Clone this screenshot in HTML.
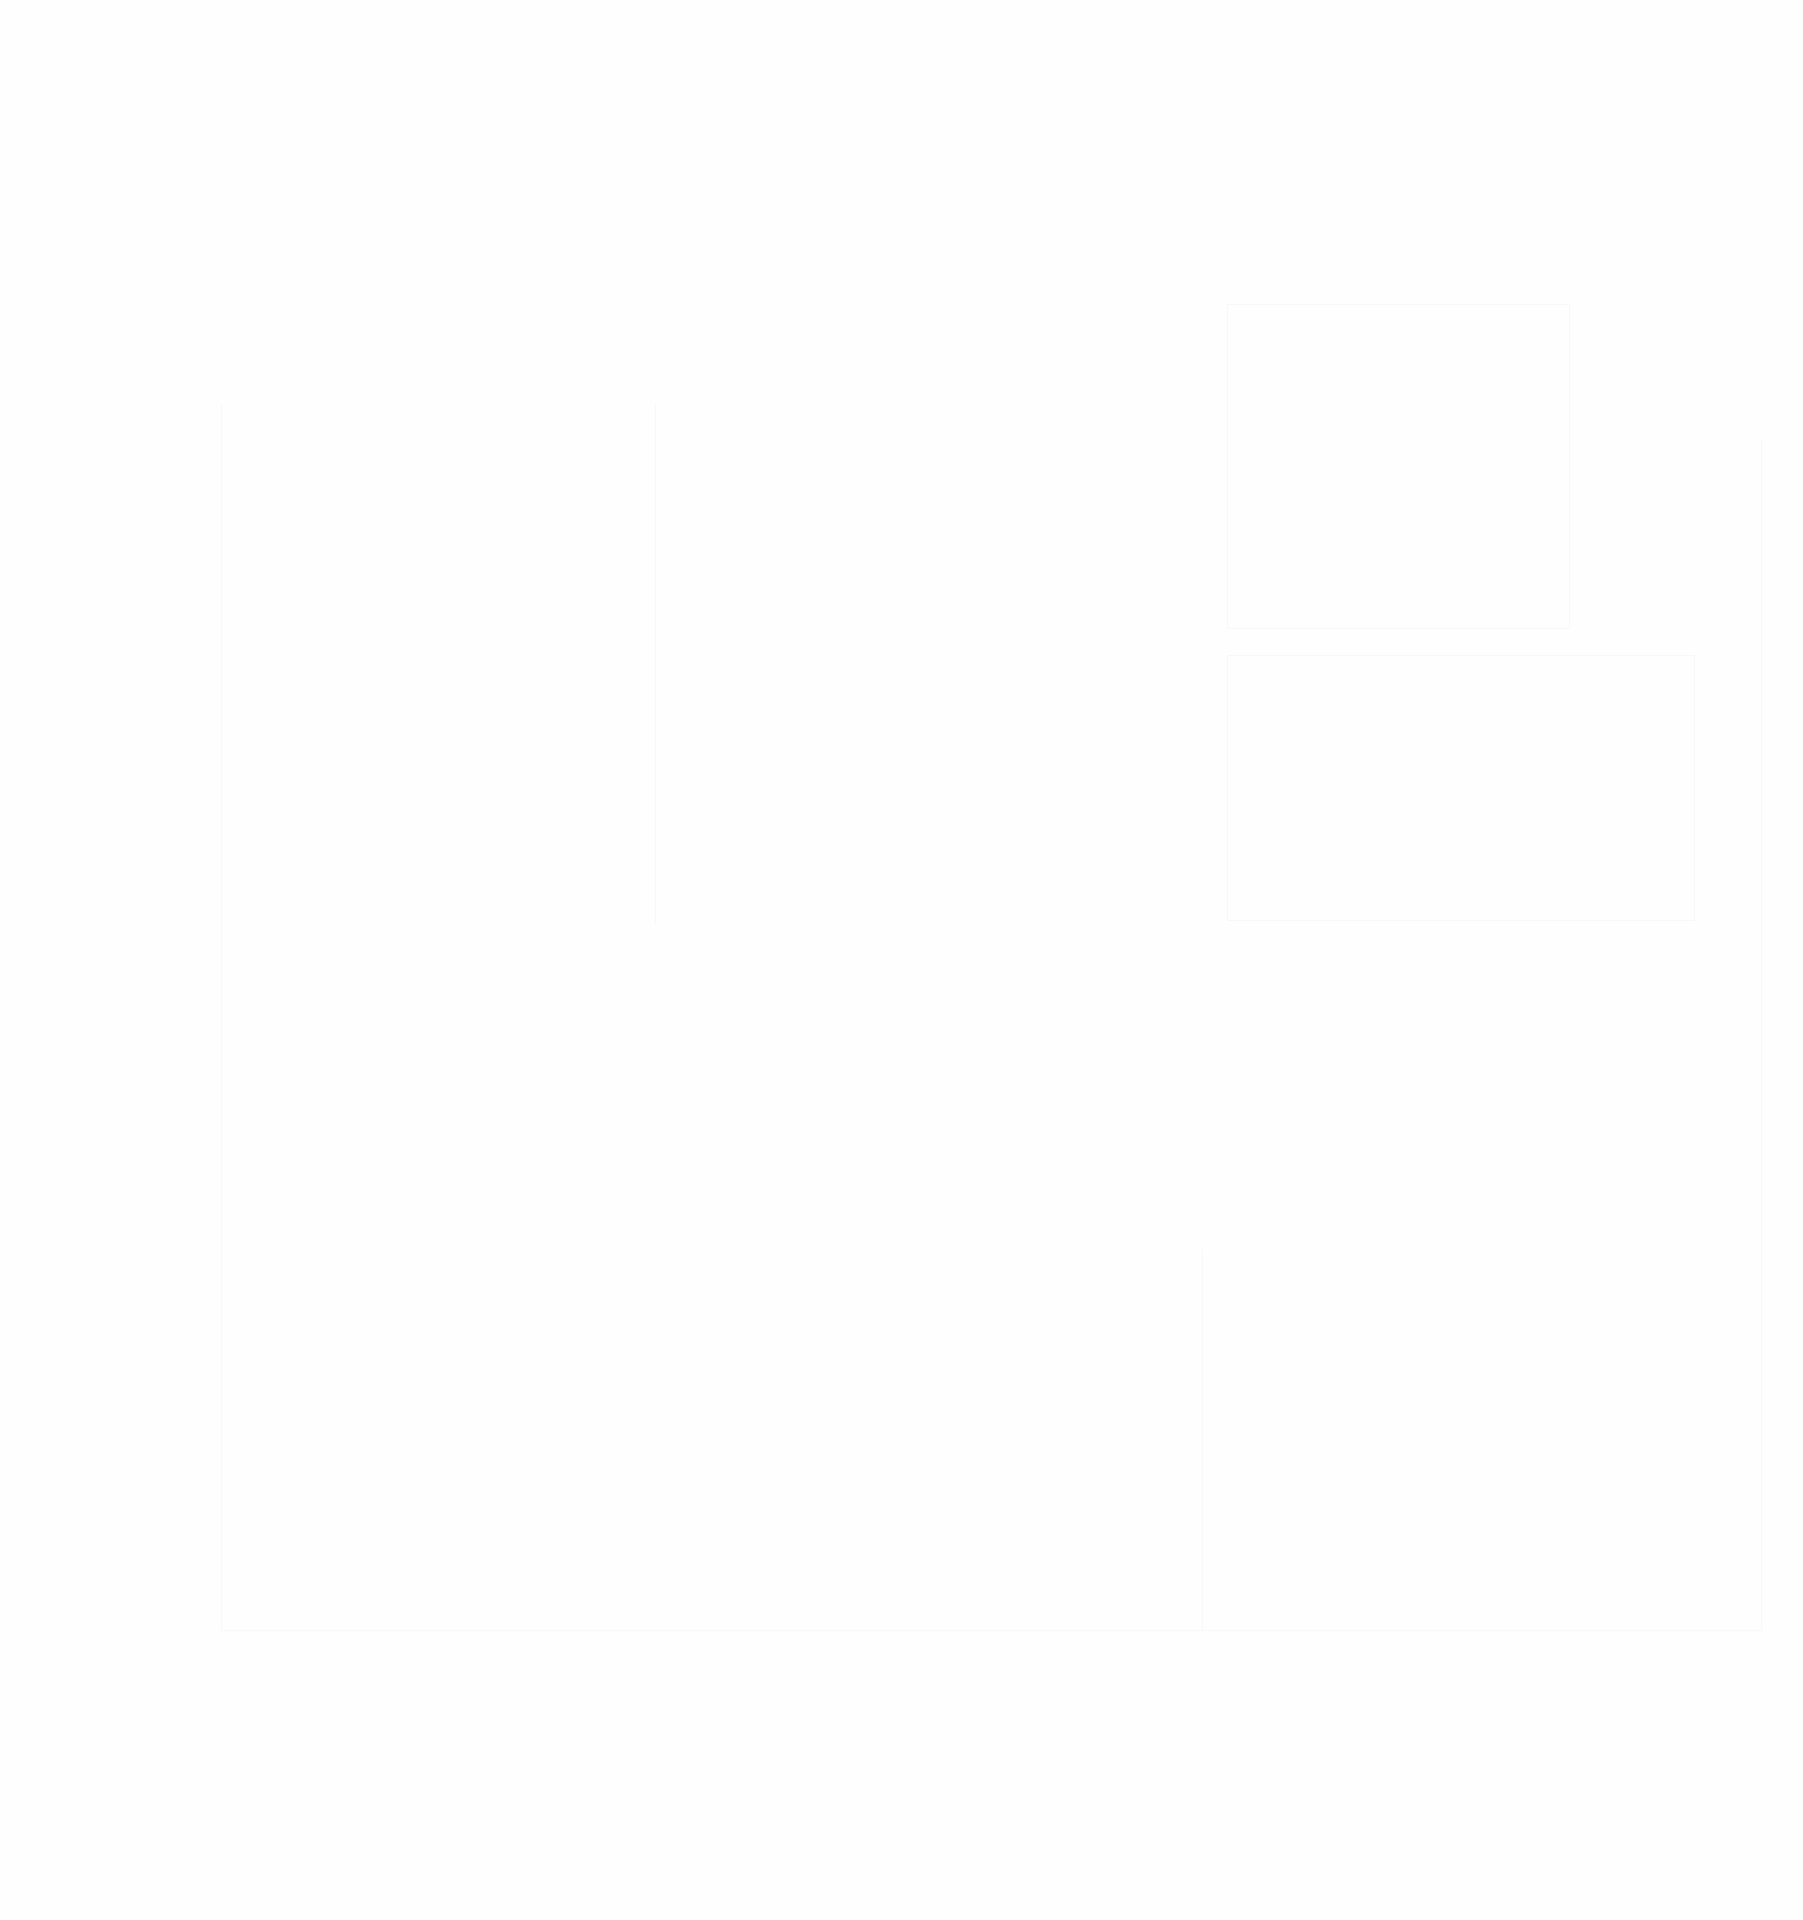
<!DOCTYPE html>
<html><head><meta charset="utf-8"><style>
html,body{margin:0;padding:0;background:#fefefe;}
body{width:1803px;height:1920px;position:relative;overflow:hidden;font-family:"Liberation Sans",sans-serif;}
.b{position:absolute;border:1px solid #f8f8f8;box-sizing:border-box;}
.l{position:absolute;background:#f8f8f8;}
</style></head><body>
<div class="b" style="left:1227px;top:304px;width:343px;height:325px;"></div>
<div class="b" style="left:1227px;top:655px;width:468px;height:266px;"></div>
<div class="l" style="left:221px;top:405px;width:1px;height:1225px;"></div>
<div class="l" style="left:1761px;top:440px;width:1px;height:1190px;"></div>
<div class="l" style="left:1202px;top:1250px;width:1px;height:380px;"></div>
<div class="l" style="left:221px;top:1630px;width:1541px;height:1px;"></div>
<div class="l" style="left:655px;top:405px;width:1px;height:520px;"></div>
</body></html>
